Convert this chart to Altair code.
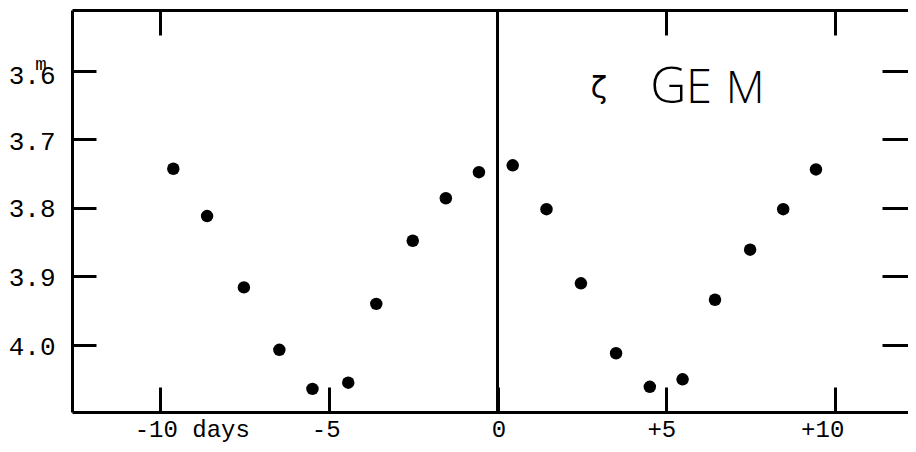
import altair as alt
import pandas as pd

# ---- data ----
days = [-9.60, -8.60, -7.51, -6.46, -5.48, -4.42, -3.59, -2.51, -1.53, -0.55,
        0.45, 1.45, 2.47, 3.51, 4.51, 5.48, 6.44, 7.48, 8.46, 9.43]
mags = [3.743, 3.812, 3.916, 4.007, 4.064, 4.055, 3.940, 3.848, 3.786, 3.748,
        3.738, 3.802, 3.910, 4.012, 4.061, 4.050, 3.934, 3.861, 3.802, 3.744]

x_tick_values = [-10, -5, 0, 5, 10]
x_tick_labels = ["-10 days", "-5", "0", "+5", "+10"]
x_label_shift = [32, -3, 1, -5, -13]
x_top_ticks = [-10, 5, 10]
y_tick_values = [3.6, 3.7, 3.8, 3.9, 4.0]
y_tick_labels = ["3.6", "3.7", "3.8", "3.9", "4.0"]
y_label_shift = [5, 2, 1, 1, 1]

greek = ["ζ"]
greek_day = [3.00]
greek_mag = [3.626]

title_parts = ["G", "E", "M"]
title_day = [4.52, 5.58, 6.76]
title_mag = [3.6471, 3.6471, 3.6471]
title_size = [50, 47, 45]

mag_unit = ["m"]
zero_day = [0]

X_DOMAIN = [-12.60, 12.155]
Y_DOMAIN = [3.5115, 4.0977]


def ternary(values, outputs, default, quote):
    expr = default
    for v, o in reversed(list(zip(values, outputs))):
        out = f"'{o}'" if quote else str(o)
        expr = f"(datum.value == {v} ? {out} : {expr})"
    return expr


x_scale = alt.Scale(domain=X_DOMAIN, nice=False, zero=False)
y_scale = alt.Scale(domain=Y_DOMAIN, nice=False, zero=False, reverse=True)

common = dict(
    domainColor="black", domainWidth=3, tickColor="black", tickWidth=3,
    grid=False, title=None, labelColor="black",
    labelFont="Liberation Mono", labelFontSize=24,
)

bottom_axis = alt.Axis(
    orient="bottom", values=x_tick_values,
    labelExpr=ternary(x_tick_values, x_tick_labels, "datum.label", True),
    labelOffset={"expr": ternary(x_tick_values, x_label_shift, "0", False)},
    tickSize={"expr": "-25"}, labelPadding=30.5, labelBaseline="top",
    labelAlign="center", labelFlush=False, labelOverlap=False, **common,
)
left_axis = alt.Axis(
    orient="left", values=y_tick_values,
    labelExpr=ternary(y_tick_values, y_tick_labels, "datum.label", True),
    labelOffset={"expr": ternary(y_tick_values, y_label_shift, "0", False)},
    tickSize={"expr": "-24"}, labelPadding=41, labelBaseline="middle",
    labelAlign="right", labelFlush=False, labelOverlap=False,
    **{**common, "labelFontSize": 26},
)
top_axis = alt.Axis(
    orient="top", values=x_top_ticks, labels=False,
    tickSize={"expr": "-25"}, **common,
)
right_axis = alt.Axis(
    orient="right", values=y_tick_values, labels=False, domain=False,
    tickSize={"expr": "-26"}, **common,
)

pts = pd.DataFrame({"day": days, "mag": mags})
points = alt.Chart(pts).mark_circle(size=155, color="black", opacity=1).encode(
    x=alt.X("day:Q", scale=x_scale, axis=bottom_axis),
    y=alt.Y("mag:Q", scale=y_scale, axis=left_axis),
)

zero = alt.Chart(pd.DataFrame({"day": zero_day})).mark_rule(
    color="black", strokeWidth=3
).encode(x=alt.X("day:Q", scale=x_scale, axis=top_axis))

unit = alt.Chart(pd.DataFrame({"day": [X_DOMAIN[0]], "mag": [y_tick_values[0]], "t": mag_unit})).mark_text(
    font="Liberation Mono", fontSize=19, dx=-31, dy=-1, baseline="alphabetic",
    align="center", color="black",
).encode(
    x=alt.X("day:Q", scale=x_scale, axis=None),
    y=alt.Y("mag:Q", scale=y_scale, axis=right_axis),
    text="t:N",
)

zeta = alt.Chart(pd.DataFrame({"t": greek, "day": greek_day, "mag": greek_mag})).mark_text(
    font="DejaVu Sans", fontSize=30, align="center", baseline="middle", color="black"
).encode(
    x=alt.X("day:Q", scale=x_scale, axis=None),
    y=alt.Y("mag:Q", scale=y_scale, axis=None),
    text="t:N",
)

title_df = pd.DataFrame({"t": title_parts, "day": title_day, "mag": title_mag, "fs": title_size})
title = alt.Chart(title_df).mark_text(
    font="Open Sans", fontWeight=300, align="left", baseline="alphabetic", color="black"
).encode(
    x=alt.X("day:Q", scale=x_scale, axis=None),
    y=alt.Y("mag:Q", scale=y_scale, axis=None),
    text="t:N",
    size=alt.Size("fs:Q", scale=None, legend=None),
)

chart = alt.layer(points, zero, unit, zeta, title).resolve_axis(
    x="independent", y="independent"
).properties(
    width=836, height=402,
    autosize=alt.AutoSizeParams(type="none"),
    padding={"left": 64, "top": 2, "right": 0, "bottom": 32},
).configure_view(stroke=None)

chart.save("out.html", embed_options={"renderer": "svg", "actions": False})
